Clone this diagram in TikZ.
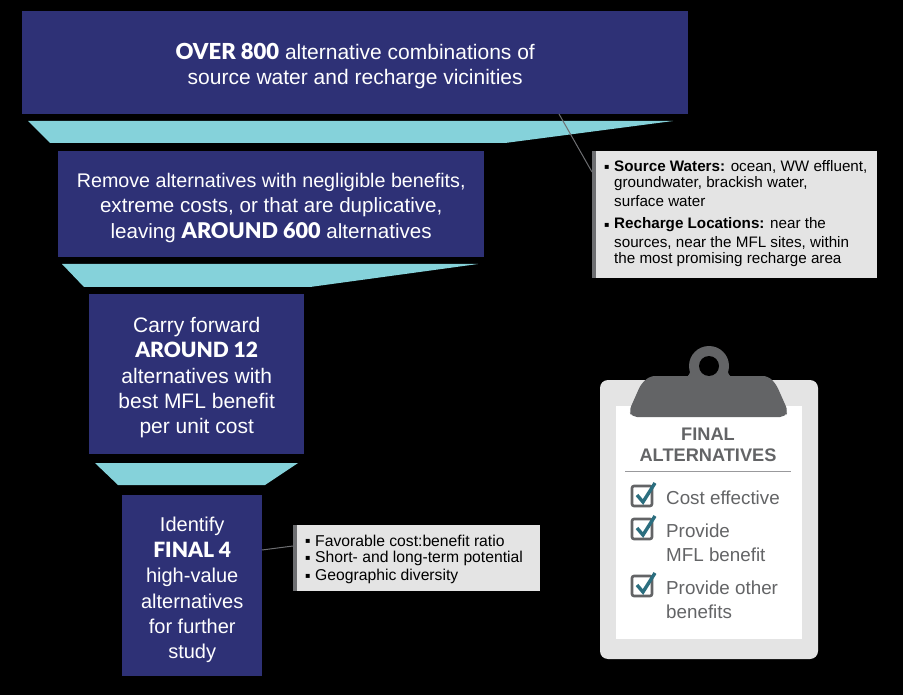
\documentclass[tikz,border=0pt]{standalone}
\usepackage{fontspec}
\setmainfont{Liberation Sans}
\newfontfamily\heavyfont[Scale=1.05]{Lato Black}
\newfontfamily\heavysmall{Lato Black}
\newfontfamily\bulletfont{DejaVu Sans}
\newcommand{\hv}[1]{{\heavyfont #1}}
\newcommand{\hvs}[1]{{\heavysmall #1}}
\newcommand{\bul}{{\bulletfont\fontsize{8}{8}\selectfont ▪}}
\definecolor{navy}{HTML}{2E3176}
\definecolor{teal1}{HTML}{85D2DA}
\definecolor{callgray}{HTML}{E4E4E4}
\definecolor{stripgray}{HTML}{6D6E71}
\definecolor{clipgray}{HTML}{636466}
\definecolor{checkteal}{HTML}{2B6E7F}
\tikzset{
  stagebox/.style={fill=navy,inner sep=0pt,anchor=north west},
  stagetext/.style={inner sep=0pt,text=white,align=center,font=\fontsize{#1}{25.4}\selectfont},
  funnel/.style={fill=teal1},
  callbox/.style={fill=callgray,inner sep=0pt,anchor=north west,text=black},
  strip/.style={fill=stripgray},
  leader/.style={draw=stripgray,line width=1pt},
  ct/.style={anchor=west,inner sep=0pt,text=black,font=\fontsize{15.2}{16}\selectfont},
  cu/.style={anchor=west,inner sep=0pt,text=black,font=\fontsize{15.7}{16}\selectfont},
  cliptext/.style={text=clipgray,anchor=west,inner sep=0pt,font=\fontsize{18.8}{20}\selectfont},
  cliphead/.style={text=clipgray,inner sep=0pt,font=\fontsize{18.2}{20}\selectfont\bfseries},
  checkbox/.style={draw=clipgray,line width=2.6pt,rounded corners=2pt},
  checkmark/.style={draw=checkteal,line width=3.4pt},
}
\begin{document}
\begin{tikzpicture}[x=1pt,y=-1pt]
\useasboundingbox (0,0) rectangle (903,695);
\fill[black] (0,0) rectangle (903,695);
% stages
\node[stagebox,minimum width=666pt,minimum height=103pt] (s1) at (22,11) {};
\node[stagetext=21] (s1t) at ([yshift=-3.5pt]s1.center) {\hv{OVER 800} alternative combinations of\\source water and recharge vicinities};
\node[stagebox,minimum width=426pt,minimum height=106pt] (s2) at (58,151) {};
\node[stagetext=19.7] (s2t) at ([yshift=-3.5pt]s2.center) {Remove alternatives with negligible benefits,\\\fontsize{20.6}{25.4}\selectfont extreme costs, or that are duplicative,\\\fontsize{20.6}{25.4}\selectfont leaving \hv{AROUND 600} alternatives};
\node[stagebox,minimum width=215pt,minimum height=160pt] (s3) at (89,294) {};
\node[stagetext=21] (s3t) at ([yshift=-3.5pt]s3.center) {Carry forward\\\hvs{AROUND 12}\\alternatives with\\best MFL benefit\\per unit cost};
\node[stagebox,minimum width=140pt,minimum height=181pt] (s4) at (122,495) {};
\node[stagetext=20] (s4t) at ([yshift=-4.5pt]s4.center) {Identify\\\hv{FINAL 4}\\high-value\\alternatives\\for further\\study};
% funnels
\fill[funnel] (28,121) -- (673,121) -- (505,143) -- (50,143) -- cycle;
\fill[funnel] (62,264) -- (478,264) -- (310,287) -- (84,287) -- cycle;
\fill[funnel] (95,463) -- (298,463) -- (265,485) -- (118,485) -- cycle;
% callouts
\node[callbox,minimum width=285pt,minimum height=127pt] (c1) at (592,151) {};
\fill[strip] (c1.north west) rectangle ([xshift=4pt]c1.south west);
\node[callbox,minimum width=247pt,minimum height=66pt] (c2) at (293,525) {};
\fill[strip] (c2.north west) rectangle ([xshift=4pt]c2.south west);
\coordinate (l1a) at (559,114);
\coordinate (l1b) at (592,172);
\coordinate (l2a) at (262,550);
\coordinate (l2b) at (293,546);
\draw[leader] (l1a) -- (l1b);
\draw[leader] (l2a) -- (l2b);
\node[ct] (t1) at (604,167) {\bul};
\node[ct] (t1a) at (614,167) {\textbf{Source Waters:} ocean, WW effluent,};
\node[ct] (t1b) at (614,184) {groundwater, brackish water,};
\node[ct] (t1c) at (614,201) {surface water};
\node[ct] (t2) at (604,225) {\bul};
\node[ct] (t2a) at (614,225) {\textbf{Recharge Locations:} near the};
\node[ct] (t2b) at (614,243) {sources, near the MFL sites, within};
\node[ct] (t2c) at (614,260) {the most promising recharge area};
\node[cu] (u1) at (305,541) {\bul};
\node[cu] (u1a) at (315,541) {Favorable cost:benefit ratio};
\node[cu] (u2) at (305,558) {\bul};
\node[cu] (u2a) at (315,558) {Short- and long-term potential};
\node[cu] (u3) at (305,576) {\bul};
\node[cu] (u3a) at (315,576) {Geographic diversity};
% clipboard
\fill[callgray,rounded corners=8pt] (600,380) rectangle (818,659);
\fill[white] (616,406) rectangle (802,639);
\fill[clipgray,rounded corners=5pt] (650,376) -- (768,376) -- (776,384) -- (788,411) -- (785,417) -- (632,417) -- (629,411) -- (641,384) -- cycle;
\fill[clipgray] (709,366) circle (20pt);
\fill[clipgray] (686,378) .. controls (691,374) and (692,368) .. (692,356) -- (726,356) .. controls (726,368) and (727,374) .. (732,378) -- cycle;
\fill[black] (709,366) circle (10pt);
\node[cliphead] (f1) at (708,434) {FINAL};
\node[cliphead] (f2) at (708,455) {ALTERNATIVES};
\draw[draw=stripgray!70,line width=1pt] (625,471) -- (791,471);
\node[cliptext] (g1) at (666,498) {Cost effective};
\node[cliptext] (g2) at (666,531) {Provide};
\node[cliptext] (g3) at (666,555) {MFL benefit};
\node[cliptext] (g4) at (666,588) {Provide other};
\node[cliptext] (g5) at (666,612) {benefits};
\foreach \yy in {486,519,576}{
  \draw[checkbox] (632,\yy) rectangle (652,\yy+20);
  \draw[checkmark] (637,\yy+9) -- (643,\yy+16) -- (655,\yy-3);
}
\end{tikzpicture}
\end{document}
